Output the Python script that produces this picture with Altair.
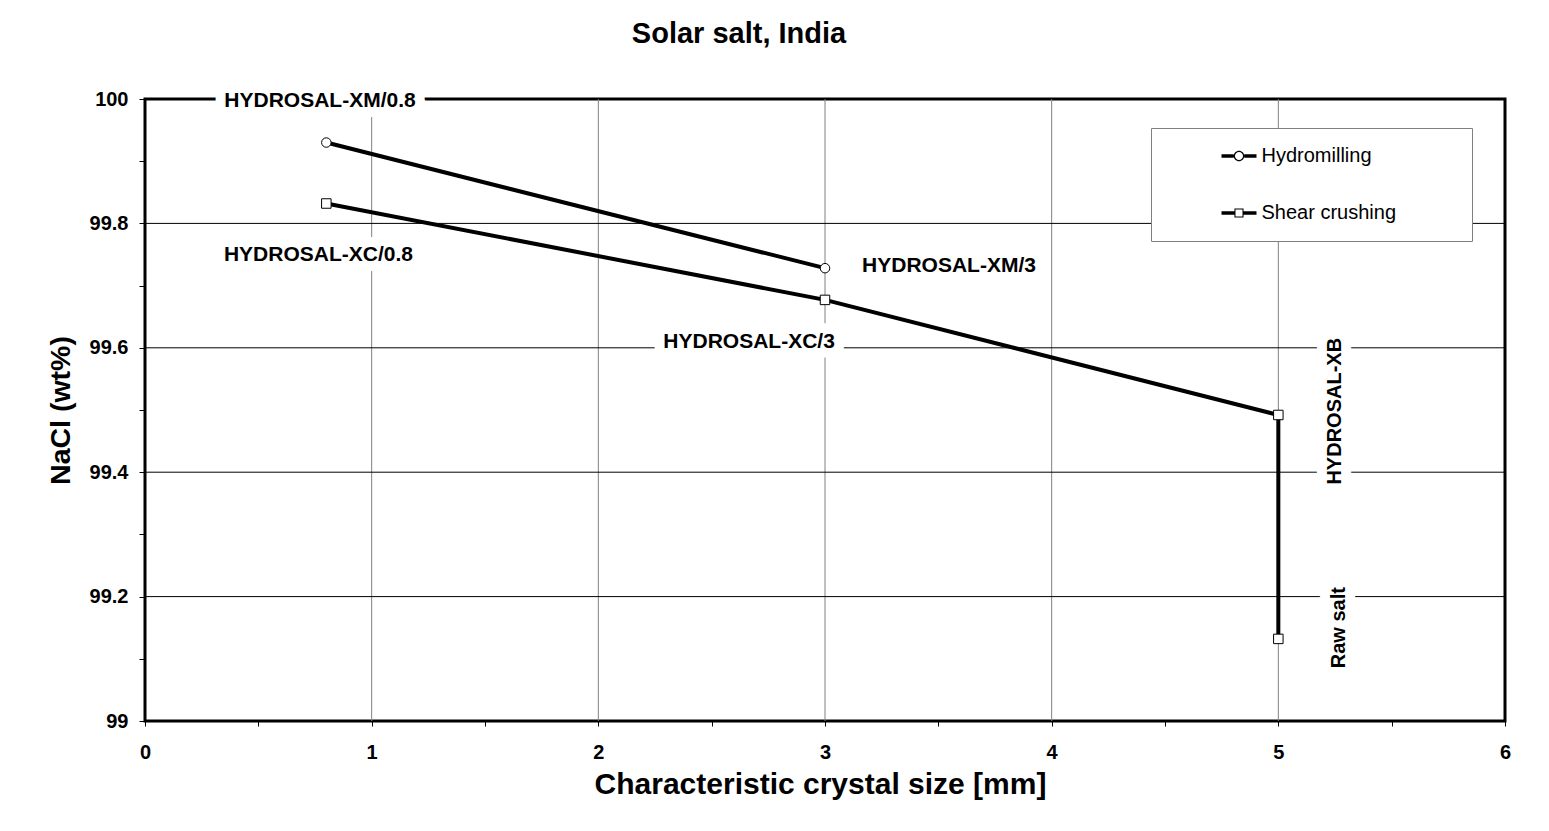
import altair as alt
import pandas as pd

# ---- data ----
series_names = ["Hydromilling", "Shear crushing"]
hydro_x = [0.8, 3.0]
hydro_y = [99.930, 99.728]
shear_x = [0.8, 3.0, 5.0, 5.0]
shear_y = [99.832, 99.677, 99.492, 99.132]

label_text = ["HYDROSAL-XM/0.8", "HYDROSAL-XC/0.8", "HYDROSAL-XM/3", "HYDROSAL-XC/3"]
label_x = [0.772, 0.765, 3.547, 2.665]
label_y = [99.997, 99.749, 99.732, 99.609]
vlabel_text = ["HYDROSAL-XB", "Raw salt"]
vlabel_x = [5.250, 5.268]
vlabel_y = [99.498, 99.150]

x_ticks = [0, 0.5, 1, 1.5, 2, 2.5, 3, 3.5, 4, 4.5, 5, 5.5, 6]
y_ticks = [99.0, 99.1, 99.2, 99.3, 99.4, 99.5, 99.6, 99.7, 99.8, 99.9, 100.0]
x_grid = [1, 2, 3, 4, 5]
y_grid = [99.2, 99.4, 99.6, 99.8]

FONT = "Liberation Sans"

pts = pd.DataFrame(
    {
        "series": [series_names[0]] * len(hydro_x) + [series_names[1]] * len(shear_x),
        "x": hydro_x + shear_x,
        "y": hydro_y + shear_y,
        "order": list(range(len(hydro_x))) + list(range(len(shear_x))),
    }
)
labels = pd.DataFrame({"text": label_text, "x": label_x, "y": label_y})
vlabels = pd.DataFrame({"text": vlabel_text, "x": vlabel_x, "y": vlabel_y})
xg = pd.DataFrame({"x": x_grid})
yg = pd.DataFrame({"y": y_grid})

x_axis = alt.Axis(
    values=x_ticks,
    labelExpr="round(datum.value*2) % 2 == 0 ? format(datum.value, '.0f') : ''",
    title="Characteristic crystal size [mm]",
    grid=False,
    domain=False,
    ticks=True,
    tickColor="black",
    tickWidth=1,
    tickSize=5,
    labelFont=FONT,
    labelFontSize=20,
    labelFontWeight="bold",
    labelColor="black",
    labelPadding=16,
    labelFlush=False,
    labelOverlap=False,
    titleFont=FONT,
    titleFontSize=30,
    titleFontWeight="bold",
    titleColor="black",
    titleX=675,
    titleY=72,
    titleAlign="center",
    titleBaseline="alphabetic",
)
y_axis = alt.Axis(
    values=y_ticks,
    labelExpr="round(datum.value*10) % 2 == 0 ? (round(datum.value*10) % 10 == 0 ? format(datum.value, '.0f') : format(datum.value, '.1f')) : ''",
    title="NaCl (wt%)",
    grid=False,
    domain=False,
    ticks=True,
    tickColor="black",
    tickWidth=1,
    tickSize=6,
    labelFont=FONT,
    labelFontSize=20,
    labelFontWeight="bold",
    labelColor="black",
    labelPadding=11,
    labelOverlap=False,
    titleFont=FONT,
    titleFontSize=28.5,
    titleFontWeight="bold",
    titleColor="black",
    titleX=-76,
    titleY=311,
    titleAngle=270,
    titleAlign="center",
    titleBaseline="alphabetic",
)
x_scale = alt.Scale(domain=[0, 6], nice=False, zero=False)
y_scale = alt.Scale(domain=[99, 100], nice=False, zero=False)


def X(field="x"):
    return alt.X(f"{field}:Q", scale=x_scale, axis=x_axis)


def Y(field="y"):
    return alt.Y(f"{field}:Q", scale=y_scale, axis=y_axis)


grid_v = alt.Chart(xg).mark_rule(color="#808080", strokeWidth=1).encode(x=X())
grid_h = alt.Chart(yg).mark_rule(color="black", strokeWidth=1).encode(y=Y())

text_style = dict(font=FONT, fontSize=21, fontWeight="bold", align="center", baseline="middle")
vtext_style = dict(font=FONT, fontSize=20, fontWeight="bold", align="center", baseline="middle")
halo = alt.Chart(labels).mark_text(
    stroke="white", strokeWidth=20, strokeJoin="round", fill="white", **text_style
).encode(x=X(), y=Y(), text="text:N")
txt = alt.Chart(labels).mark_text(color="black", **text_style).encode(x=X(), y=Y(), text="text:N")
vhalo = alt.Chart(vlabels).mark_text(
    stroke="white", strokeWidth=20, strokeJoin="round", fill="white", angle=270, **vtext_style
).encode(x=X(), y=Y(), text="text:N")
vtxt = alt.Chart(vlabels).mark_text(color="black", angle=270, **vtext_style).encode(
    x=X(), y=Y(), text="text:N"
)

lines = alt.Chart(pts).mark_line(color="black", strokeWidth=4).encode(
    x=X(), y=Y(), detail="series:N", order="order:Q"
)
points = alt.Chart(pts).mark_point(
    filled=True, fill="white", stroke="black", strokeWidth=1, size=90, opacity=1
).encode(
    x=X(),
    y=Y(),
    shape=alt.Shape(
        "series:N",
        scale=alt.Scale(domain=series_names, range=["circle", "square"]),
        legend=None,
    ),
)

circle_sym = (
    "M-1,-0.1H-0.3V0.1H-1Z M0.3,-0.1H1V0.1H0.3Z "
    "M0.3,0A0.3,0.3 0 1,1 -0.3,0A0.3,0.3 0 1,1 0.3,0Z "
    "M0.23,0A0.23,0.23 0 1,0 -0.23,0A0.23,0.23 0 1,0 0.23,0Z"
)
square_sym = (
    "M-1,-0.1H-0.26V0.1H-1Z M0.26,-0.1H1V0.1H0.26Z "
    "M-0.26,-0.26H0.26V0.26H-0.26Z M-0.2,-0.2V0.2H0.2V-0.2Z"
)
legend_layer = alt.Chart(pts).mark_point(filled=True, color="black", opacity=0).encode(
    x=X(),
    y=Y(),
    shape=alt.Shape(
        "series:N",
        scale=alt.Scale(domain=series_names, range=[circle_sym, square_sym]),
        legend=alt.Legend(
            orient="none",
            legendX=1006,
            legendY=29,
            # invisible (white) spacer title that widens the legend box
            title="M" * 60,
            titleOrient="bottom",
            titleFontSize=6,
            titleColor="white",
            titlePadding=1,
            titleLimit=1000,
            labelFont=FONT,
            labelFontSize=20,
            labelFontWeight="normal",
            labelColor="black",
            labelLimit=600,
            labelOffset=5,
            symbolSize=1225,
            symbolOffset=60,
            symbolOpacity=1,
            symbolFillColor="black",
            symbolStrokeColor="black",
            symbolStrokeWidth=0,
            rowPadding=29,
            padding=10.5,
            strokeColor="#808080",
            fillColor="white",
        ),
    ),
)

chart = (
    alt.layer(grid_v, grid_h, halo, txt, vhalo, vtxt, lines, points, legend_layer)
    .resolve_scale(shape="independent")
    .resolve_legend(shape="independent")
    .properties(
        width=1360,
        height=622,
        autosize=alt.AutoSizeParams(type="none"),
        padding={"left": 137, "top": 91, "right": 36, "bottom": 102},
        background="white",
        title=alt.TitleParams(
            "Solar salt, India",
            font=FONT,
            fontSize=29,
            fontWeight="bold",
            color="black",
            anchor="middle",
            frame="group",
            dx=-86,
            offset=17,
            baseline="alphabetic",
        ),
    )
    .configure_view(stroke="black", strokeWidth=3)
)

chart.save("out.html", embed_options={"renderer": "svg", "actions": False})
